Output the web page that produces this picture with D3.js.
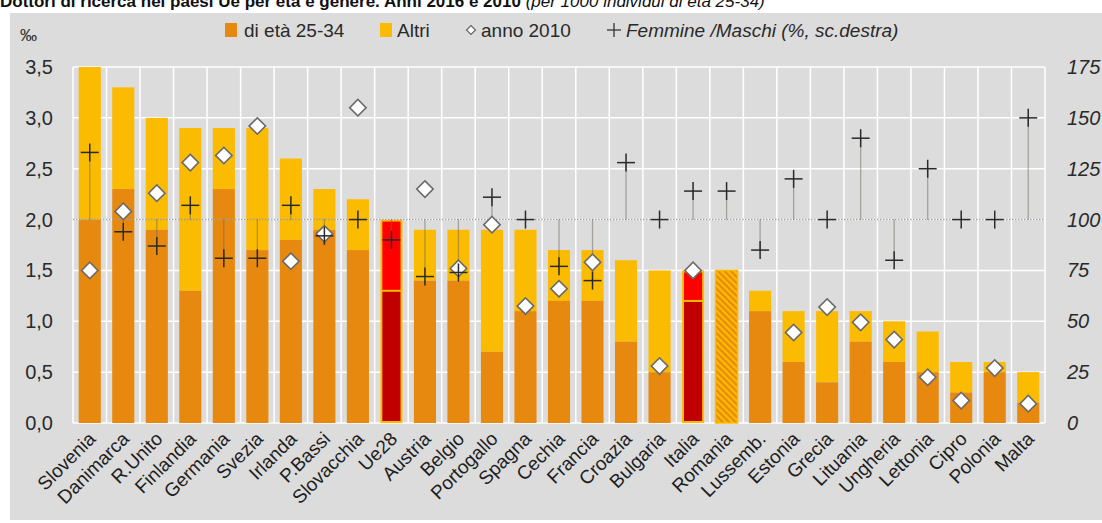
<!DOCTYPE html>
<html>
<head>
<meta charset="utf-8">
<script src="https://cdn.jsdelivr.net/npm/d3@7"></script>
<style>
  body { margin: 0; background: #fff; }
  svg { display: block; font-family: "Liberation Sans", Arial, sans-serif; }
</style>
</head>
<body>
<svg id="chart" width="1102" height="523"></svg>
<script>
// dati
const paesi = ["Slovenia", "Danimarca", "R.Unito", "Finlandia", "Germania", "Svezia", "Irlanda", "P.Bassi",
  "Slovacchia", "Ue28", "Austria", "Belgio", "Portogallo", "Spagna", "Cechia", "Francia", "Croazia",
  "Bulgaria", "Italia", "Romania", "Lussemb.", "Estonia", "Grecia", "Lituania", "Ungheria", "Lettonia",
  "Cipro", "Polonia", "Malta"];
const totale = [3.5, 3.3, 3.0, 2.9, 2.9, 2.9, 2.6, 2.3, 2.2, 2.0, 1.9, 1.9, 1.9, 1.9, 1.7, 1.7, 1.6,
  1.5, 1.5, 1.5, 1.3, 1.1, 1.1, 1.1, 1.0, 0.9, 0.6, 0.6, 0.5];
const eta2534 = [2.0, 2.3, 1.9, 1.3, 2.3, 1.7, 1.8, 1.9, 1.7, 1.3, 1.4, 1.4, 0.7, 1.1, 1.2, 1.2, 0.8,
  0.5, 1.2, null, 1.1, 0.6, 0.4, 0.8, 0.6, 0.5, 0.3, 0.5, 0.2];
const anno2010 = [1.5, 2.08, 2.26, 2.56, 2.63, 2.92, 1.59, 1.86, 3.1, null, 2.3, 1.52, 1.95, 1.15, 1.32,
  1.58, null, 0.56, 1.5, null, null, 0.89, 1.14, 0.99, 0.82, 0.45, 0.22, 0.54, 0.19];
const femmineMaschi = [133, 94, 87, 107, 81, 81, 107, 92, 100, 90, 72, 74, 111, 100, 77, 70, 128,
  100, 114, 114, 85, 120, 100, 140, 80, 125, 100, 100, 150];
const ticksSx = [0, 0.5, 1, 1.5, 2, 2.5, 3, 3.5];
const ticksDx = [0, 25, 50, 75, 100, 125, 150, 175];
const evidenziati = ["Ue28", "Italia"];
const tratteggiati = ["Romania"];

const C_ETA = "#e8890f", C_ALTRI = "#fbbb00", C_ROSSO = "#ff0000", C_ROSSO_SCURO = "#c00000";

const svg = d3.select("#chart");
const margin = { top: 67, right: 57, bottom: 100, left: 73 };
const W = 1102, H = 523;

// sfondo grigio
svg.append("rect").attr("x", 10).attr("y", 13).attr("width", W - 10).attr("height", 507).attr("fill", "#dcdcdc");

// titolo (tagliato in alto come nell'originale)
const titolo = svg.append("text").attr("x", 0).attr("y", 7).attr("font-size", 17).attr("fill", "#111");
titolo.append("tspan").attr("font-weight", "bold").text("Dottori di ricerca nei paesi Ue per età e genere. Anni 2016 e 2010 ");
titolo.append("tspan").attr("font-style", "italic").text("(per 1000 individui di età 25-34)");

const x = d3.scaleBand().domain(paesi).range([margin.left, W - margin.right]).paddingInner(0.34).paddingOuter(0.17);
const y = d3.scaleLinear().domain([0, 3.5]).range([H - margin.bottom, margin.top]);
const y2 = d3.scaleLinear().domain([0, 175]).range([H - margin.bottom, margin.top]);
const step = x.step();

// pattern tratteggiato per la Romania
const pat = svg.append("defs").append("pattern").attr("id", "hatch").attr("patternUnits", "userSpaceOnUse")
  .attr("width", 4.5).attr("height", 4.5).attr("patternTransform", "rotate(-45)");
pat.append("rect").attr("width", 4.5).attr("height", 4.5).attr("fill", C_ALTRI);
pat.append("rect").attr("width", 2.2).attr("height", 4.5).attr("fill", C_ETA);

// griglia
const g = svg.append("g");
g.selectAll("line.h").data(ticksSx).enter().append("line")
  .attr("x1", margin.left).attr("x2", W - margin.right)
  .attr("y1", d => y(d)).attr("y2", d => y(d))
  .attr("stroke", "#fff").attr("stroke-width", 1.5);
g.selectAll("line.v").data(d3.range(paesi.length + 1)).enter().append("line")
  .attr("x1", i => margin.left + i * step).attr("x2", i => margin.left + i * step)
  .attr("y1", margin.top).attr("y2", H - margin.bottom)
  .attr("stroke", "#fff").attr("stroke-width", 1.5);

// barre
const dati = paesi.map((p, i) => ({ p, tot: totale[i], eta: eta2534[i], v2010: anno2010[i], fm: femmineMaschi[i] }));
const barre = svg.append("g").selectAll("g").data(dati).enter().append("g");

barre.each(function (d) {
  const b = d3.select(this);
  const bx = x(d.p), bw = x.bandwidth();
  if (tratteggiati.includes(d.p)) {
    b.append("rect").attr("x", bx).attr("width", bw).attr("y", y(d.tot)).attr("height", y(0) - y(d.tot))
      .attr("fill", "url(#hatch)").attr("stroke", C_ALTRI).attr("stroke-width", 1.5);
  } else if (evidenziati.includes(d.p)) {
    b.append("rect").attr("x", bx).attr("width", bw).attr("y", y(d.tot)).attr("height", y(0) - y(d.tot))
      .attr("fill", C_ALTRI);
    b.append("rect").attr("x", bx + 2).attr("width", bw - 4).attr("y", y(d.tot) + 2).attr("height", y(d.eta) - y(d.tot) - 3)
      .attr("fill", C_ROSSO);
    b.append("rect").attr("x", bx + 2).attr("width", bw - 4).attr("y", y(d.eta) + 1).attr("height", y(0) - y(d.eta) - 3)
      .attr("fill", C_ROSSO_SCURO);
  } else {
    b.append("rect").attr("x", bx).attr("width", bw).attr("y", y(d.tot)).attr("height", y(d.eta) - y(d.tot))
      .attr("fill", C_ALTRI);
    b.append("rect").attr("x", bx).attr("width", bw).attr("y", y(d.eta)).attr("height", y(0) - y(d.eta))
      .attr("fill", C_ETA);
  }
});

// linea di riferimento 100 (= 2,0)
svg.append("line").attr("x1", margin.left).attr("x2", W - margin.right)
  .attr("y1", y2(100)).attr("y2", y2(100))
  .attr("stroke", "#a0a0a0").attr("stroke-width", 1.5).attr("stroke-dasharray", "1.5,1.5");

// linee verticali punteggiate verso le croci
const cx = d => x(d.p) + x.bandwidth() / 2;
svg.append("g").selectAll("line").data(dati.filter(d => d.fm !== 100)).enter().append("line")
  .attr("x1", cx).attr("x2", cx)
  .attr("y1", y2(100)).attr("y2", d => y2(d.fm))
  .attr("stroke", "#6f6658").attr("stroke-width", 1.3).attr("stroke-dasharray", "1,1");

// rombi anno 2010
const rombo = d3.symbol().type(d3.symbolSquare).size(135);
svg.append("g").selectAll("path").data(dati.filter(d => d.v2010 != null)).enter().append("path")
  .attr("d", rombo)
  .attr("transform", d => `translate(${cx(d)},${y(d.v2010)}) rotate(45)`)
  .attr("fill", "#fff").attr("stroke", "#6a6a6a").attr("stroke-width", 1.6);

// croci femmine/maschi
const croci = svg.append("g").selectAll("g").data(dati).enter().append("g")
  .attr("transform", d => `translate(${cx(d)},${y2(d.fm)})`);
croci.append("line").attr("x1", -9).attr("x2", 9).attr("stroke", "#2a2a2a").attr("stroke-width", 1.5);
croci.append("line").attr("y1", -9).attr("y2", 9).attr("stroke", "#2a2a2a").attr("stroke-width", 1.5);

// asse sinistro
svg.append("g").selectAll("text").data(ticksSx).enter().append("text")
  .attr("x", 53).attr("y", d => y(d)).attr("dy", "0.35em").attr("text-anchor", "end")
  .attr("font-size", 20).attr("fill", "#2a2a2a")
  .text(d => d3.format(".1f")(d).replace(".", ","));
svg.append("text").attr("x", 20).attr("y", 41).attr("font-size", 17).attr("fill", "#2a2a2a").text("‰");

// asse destro
svg.append("g").selectAll("text").data(ticksDx).enter().append("text")
  .attr("x", 1067).attr("y", d => y2(d)).attr("dy", "0.35em")
  .attr("font-size", 20).attr("font-style", "italic").attr("fill", "#2a2a2a")
  .text(d => d);

// etichette paesi
svg.append("g").selectAll("text").data(paesi).enter().append("text")
  .attr("transform", d => `translate(${x(d) + x.bandwidth() / 2 + 7},${H - margin.bottom + 17}) rotate(-45)`)
  .attr("text-anchor", "end").attr("font-size", 19).attr("fill", "#1e1e1e")
  .text(d => d);

// legenda
const leg = svg.append("g").attr("font-size", 19).attr("fill", "#2a2a2a");
leg.append("rect").attr("x", 225).attr("y", 23).attr("width", 12).attr("height", 14).attr("fill", C_ETA);
leg.append("text").attr("x", 244).attr("y", 37).text("di età 25-34");
leg.append("rect").attr("x", 380).attr("y", 23).attr("width", 12).attr("height", 14).attr("fill", C_ALTRI);
leg.append("text").attr("x", 397).attr("y", 37).text("Altri");
leg.append("path").attr("d", d3.symbol().type(d3.symbolSquare).size(40))
  .attr("transform", "translate(471,30) rotate(45)").attr("fill", "#fff").attr("stroke", "#666").attr("stroke-width", 1.2);
leg.append("text").attr("x", 481).attr("y", 37).text("anno 2010");
leg.append("line").attr("x1", 607).attr("x2", 621).attr("y1", 30).attr("y2", 30).attr("stroke", "#333").attr("stroke-width", 1.3);
leg.append("line").attr("x1", 614).attr("x2", 614).attr("y1", 23).attr("y2", 37).attr("stroke", "#333").attr("stroke-width", 1.3);
leg.append("text").attr("x", 626).attr("y", 37).attr("font-style", "italic").text("Femmine /Maschi (%, sc.destra)");
</script>
</body>
</html>
